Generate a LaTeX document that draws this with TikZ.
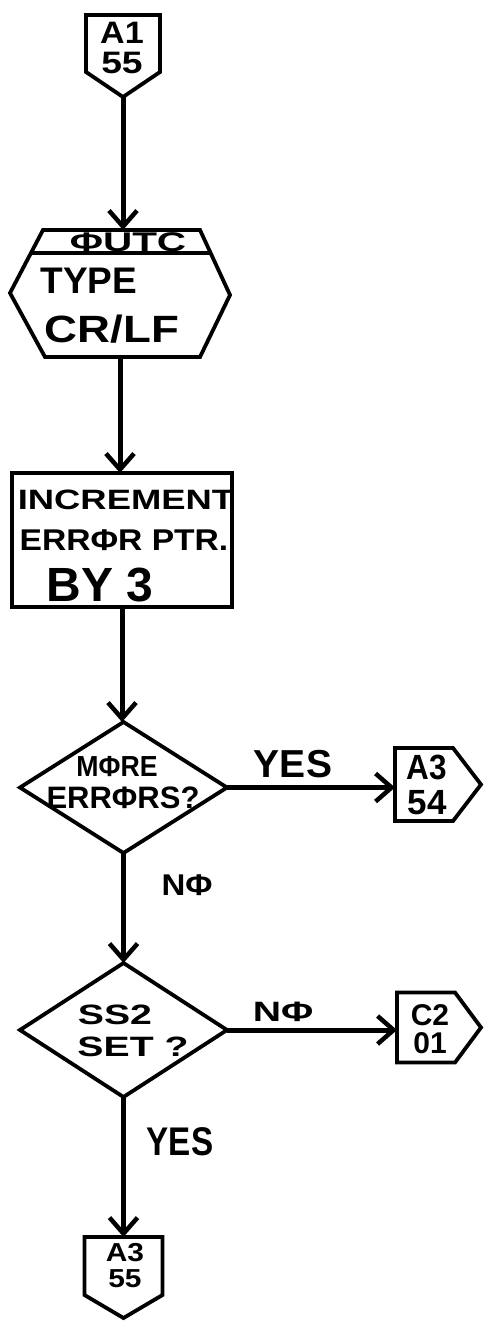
\documentclass[tikz,border=0pt]{standalone}
\usepackage{fontspec}
\setmainfont{Liberation Sans}
\usetikzlibrary{arrows.meta}
\newcommand\hw[2]{\scalebox{#1}[1]{#2}}
\begin{document}
\begin{tikzpicture}[x=1pt,y=-1pt,
  shp/.style={draw=none,inner sep=0pt,outer sep=0pt},
  outl/.style={line width=3.8pt,line join=miter},
  flow/.style={line width=5pt,-{Straight Barb[length=16pt,width=28pt,line width=4.5pt]}},
  lbl/.style={inner sep=0pt,font=\bfseries\fontsize{#1}{#1}\selectfont},
  lbl/.default=28,
  two/.style 2 args={inner sep=0pt,align=center,font=\bfseries\fontsize{#1}{#2}\selectfont}
]
\useasboundingbox[fill=white] (0,0) rectangle (490,1332);

% entry connector A1/55
\node[shp,minimum width=74pt,minimum height=82pt] (c1) at (123,56) {};
\draw[outl] (86,15) -- (160,15) -- (160,72) -- (123,97) -- (86,72) -- cycle;
\node[two={31}{30}] (t1) at (122,47.5) {\hw{1.1}{A1}\\\hw{1.2}{55}};

% hexagon OUTC
\node[shp,minimum width=220pt,minimum height=127pt] (hex) at (120,293.5) {};
\draw[outl] (43,230) -- (200,230) -- (230,295) -- (200,357) -- (45,357) -- (10,293) -- cycle;
\draw[outl] (31,253) -- (211,253);
\node[lbl=27] (th0) at (128,242) {\hw{1.5}{ΦUTC}};
\node[lbl=37] (th1) at (89,281) {TYPE};
\node[lbl=38] (th2) at (112,329) {\hw{1.2}{CR/LF}};

% process box
\node[shp,draw,outl,minimum width=220pt,minimum height=134pt] (box) at (122,540) {};
\node[lbl=28] (tb1) at (126,500) {\hw{1.3}{INCREMENT}};
\node[lbl=30] (tb2) at (124,540) {\hw{1.12}{ERRΦR PTR.}};
\node[lbl=48] (tb3) at (100,585) {BY 3};

% decision 1
\node[shp,minimum width=207pt,minimum height=131pt] (d1) at (123.5,787.5) {};
\draw[outl] (d1.north) -- (d1.east) -- (d1.south) -- (d1.west) -- cycle;
\node[lbl=29] (td1a) at (117,767) {\hw{0.92}{MΦRE}};
\node[lbl=31] (td1b) at (123,798) {ERRΦRS?};

% off-page A3/54
\node[shp,minimum width=86pt,minimum height=73pt] (c2) at (438,784.5) {};
\draw[outl] (395,748) -- (453,748) -- (481,784.5) -- (453,821) -- (395,821) -- cycle;
\node[two={35}{35}] (t2) at (427,784.5) {\hw{0.9}{A3}\\54};

% decision 2
\node[shp,minimum width=207pt,minimum height=134pt] (d2) at (123.5,1030) {};
\draw[outl] (d2.north) -- (d2.east) -- (d2.south) -- (d2.west) -- cycle;
\node[lbl=28] (td2a) at (115,1015) {\hw{1.4}{SS2}};
\node[lbl=28] (td2b) at (133,1047) {\hw{1.4}{SET ?}};

% off-page C2/01
\node[shp,minimum width=84pt,minimum height=70pt] (c3) at (439,1027.5) {};
\draw[outl] (397,992.5) -- (455,992.5) -- (481,1027.5) -- (455,1062.5) -- (397,1062.5) -- cycle;
\node[two={30}{28}] (t3) at (430,1029) {C2\\01};

% exit connector A3/55
\node[shp,minimum width=78pt,minimum height=81pt] (c4) at (123.5,1277.5) {};
\draw[outl] (84.5,1237) -- (162.5,1237) -- (162.5,1295) -- (123.5,1318) -- (84.5,1295) -- cycle;
\node[two={26}{26}] (t4) at (125,1266) {\hw{1.15}{A3}\\\hw{1.15}{55}};

% connectors
\draw[flow] (c1.south) -- (c1.south |- hex.north);
\draw[flow] (hex.south) -- (hex.south |- box.north);
\draw[flow] (box.south) -- (box.south |- d1.north);
\draw[flow] (d1.east) -- (d1.east -| c2.west);
\draw[flow] (d1.south) -- (d2.north);
\draw[flow] (d2.east) -- (d2.east -| c3.west);
\draw[flow] (d2.south) -- (c4.north);

% branch labels
\node[lbl=39] (ly1) at (293,764) {YES};
\node[lbl=30] (ln1) at (187,885) {\hw{1.1}{NΦ}};
\node[lbl=28] (ln2) at (283,1012) {\hw{1.4}{NΦ}};
\node[lbl=40] (ly2) at (180,1142) {\hw{0.83}{YES}};
\end{tikzpicture}
\end{document}
